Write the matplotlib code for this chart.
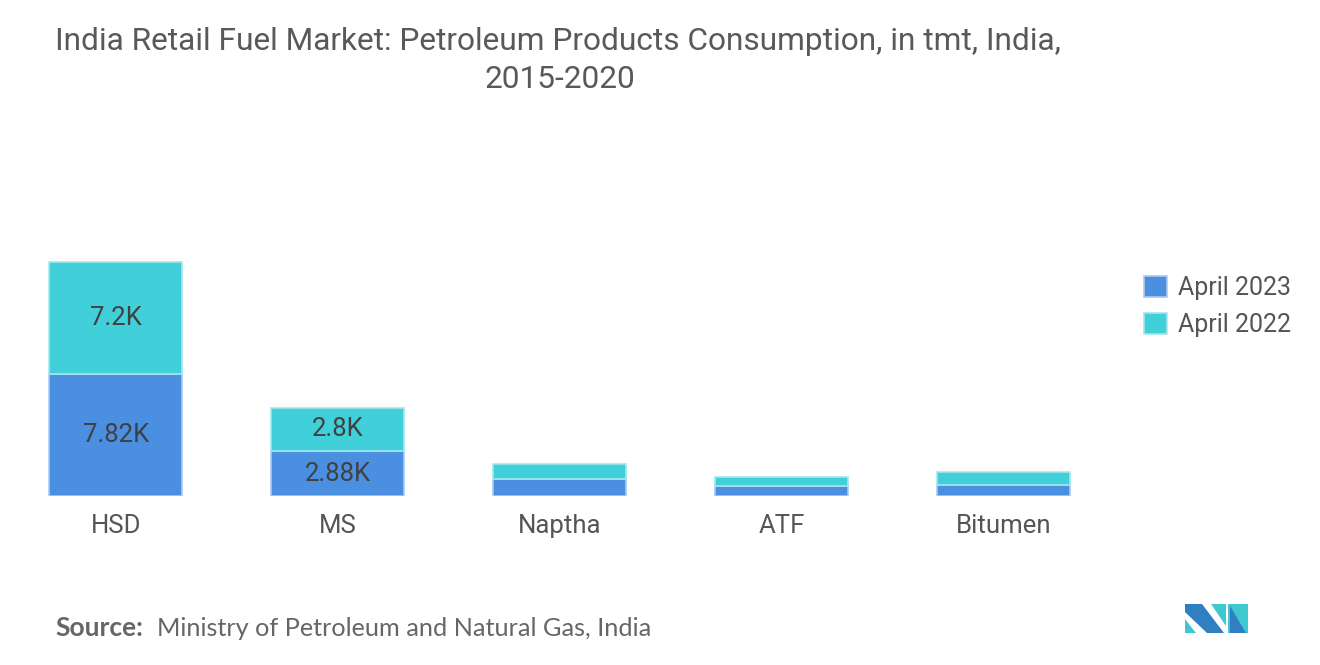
import matplotlib
matplotlib.use("Agg")
import matplotlib.pyplot as plt
from matplotlib.patches import Polygon

categories = ["HSD", "MS", "Naptha", "ATF", "Bitumen"]
april_2023 = [7820, 2880, 1090, 640, 705]
april_2022 = [7200, 2800, 965, 580, 835]
label_2023 = ["7.82K", "2.88K", "", "", ""]
label_2022 = ["7.2K", "2.8K", "", "", ""]
series_names = ["April 2023", "April 2022"]

C23 = "#4a8fe0"
C22 = "#41d0d9"
W, H = 1320, 665

fig = plt.figure(figsize=(13.2, 6.65), dpi=100)
ax = fig.add_axes([4.8 / W, (H - 496) / H, 1110 / W, 249 / H])

x = list(range(len(categories)))
b1 = ax.bar(x, april_2023, width=0.6, color=C23, edgecolor="#a9c9f0", linewidth=1.2, label=series_names[0])
b2 = ax.bar(x, april_2022, width=0.6, bottom=april_2023, color=C22, edgecolor="#a4e6ea", linewidth=1.2, label=series_names[1])
ax.bar_label(b1, labels=label_2023, label_type="center", fontsize=18.5, color="#404040", family="Roboto")
ax.bar_label(b2, labels=label_2022, label_type="center", fontsize=18.5, color="#404040", family="Roboto")

ax.set_xlim(-0.5, 4.5)
ax.set_ylim(0, 16000)
ax.set_xticks(x)
ax.set_xticklabels(categories, fontsize=18.5, color="#555555", family="Roboto")
ax.tick_params(axis="x", length=0, pad=13)
ax.set_yticks([])
for s in ax.spines.values():
    s.set_visible(False)

leg = fig.legend(handles=[b1, b2], labels=series_names, loc="upper left",
                 bbox_to_anchor=(1134 / W, 1 - 266 / H), frameon=False,
                 prop={"family": "Roboto", "size": 18}, handlelength=0.9,
                 handleheight=0.9, handletextpad=0.45, labelspacing=0.52, borderaxespad=0)
for t in leg.get_texts():
    t.set_color("#555555")

fig.text(558 / W, 1 - 42 / H, "India Retail Fuel Market: Petroleum Products Consumption, in tmt, India,",
         ha="center", va="center", fontsize=22.8, color="#595959", family="Roboto")
fig.text(560 / W, 1 - 79 / H, "2015-2020", ha="center", va="center", fontsize=22.8,
         color="#595959", family="Roboto")

fig.text(55 / W, 1 - 628 / H, "Source:", ha="left", va="center", fontsize=19,
         color="#666666", family="Lato", weight="bold")
fig.text(157 / W, 1 - 628 / H, "Ministry of Petroleum and Natural Gas, India", ha="left",
         va="center", fontsize=18.2, color="#666666", family="Lato")

def P(pts, c):
    fig.patches.append(Polygon([(px / W, 1 - py / H) for px, py in pts], closed=True,
                               transform=fig.transFigure, facecolor=c, edgecolor="none"))

DB = "#2f7fc1"
TL = "#3fc8cf"
P([(1185, 604), (1202, 604), (1224, 633), (1207, 633), (1185, 612)], DB)
P([(1185, 619), (1185, 633), (1196, 633)], TL)
P([(1211, 604), (1226, 604), (1226, 626)], TL)
P([(1228, 604), (1248, 604), (1248, 633), (1228, 633)], TL)
P([(1230, 606), (1246, 633), (1230, 633)], DB)

fig.savefig("out.png", dpi=100)
